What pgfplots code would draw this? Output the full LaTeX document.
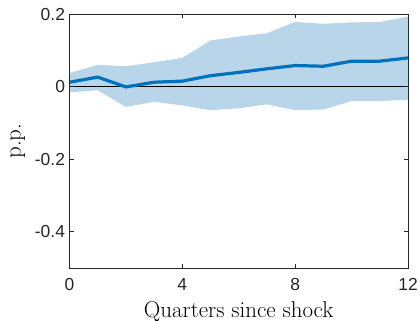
\documentclass[border=0pt]{standalone}
\usepackage{fontspec}
\usepackage{pgfplots}
\pgfplotsset{compat=1.18}
\usepgfplotslibrary{fillbetween}
\newfontfamily\tickfont{Liberation Sans}
\definecolor{irfline}{rgb}{0.0,0.447,0.741}
\definecolor{irfband}{RGB}{185,213,233}
\definecolor{axgray}{rgb}{0.15,0.15,0.15}

\pgfplotstableread{
q   mid     lo      hi
0   0.012  -0.016   0.037
1   0.026  -0.010   0.060
2  -0.001  -0.056   0.056
3   0.012  -0.042   0.067
4   0.015  -0.052   0.079
5   0.030  -0.065   0.127
6   0.039  -0.060   0.138
7   0.049  -0.049   0.147
8   0.058  -0.065   0.178
9   0.056  -0.063   0.173
10  0.070  -0.040   0.177
11  0.070  -0.040   0.178
12  0.079  -0.036   0.193
}\irf

\begin{document}
\begin{tikzpicture}
\begin{axis}[
  scale only axis,
  width=338.5bp, height=254bp,
  xmin=0, xmax=12, ymin=-0.5, ymax=0.2,
  xtick={0,4,8,12}, ytick={-0.4,-0.2,0,0.2},
  yticklabels={-0.4,-0.2,0,0.2},
  xticklabels={0,4,8,12},
  tick align=inside,
  major tick length=4bp,
  axis line style={axgray, line width=0.6bp},
  tick style={axgray, line width=0.6bp},
  ticklabel style={font=\tickfont\fontsize{17.5}{19}\selectfont, text=black!85},
  xticklabel style={yshift=-7bp},
  yticklabel style={xshift=-1bp},
  label style={font=\fontsize{23}{26}\selectfont},
  xlabel={Quarters since shock},
  ylabel={p.p.},
  xlabel style={yshift=-4bp},
  ylabel style={yshift=3bp},
  clip=true,
  axis on top,
]
\addplot[name path=hi, draw=none, forget plot] table[x=q, y=hi] {\irf};
\addplot[name path=lo, draw=none, forget plot] table[x=q, y=lo] {\irf};
\addplot[fill=irfband, draw=none] fill between[of=hi and lo];
\addplot[black, line width=0.7bp] coordinates {(0,0) (12,0)};
\addplot[irfline, line width=3.2bp] table[x=q, y=mid] {\irf};
\end{axis}
\pgfresetboundingbox
\useasboundingbox (-69.5bp,-53bp) rectangle (350.5bp,268bp);
\end{tikzpicture}
\end{document}
